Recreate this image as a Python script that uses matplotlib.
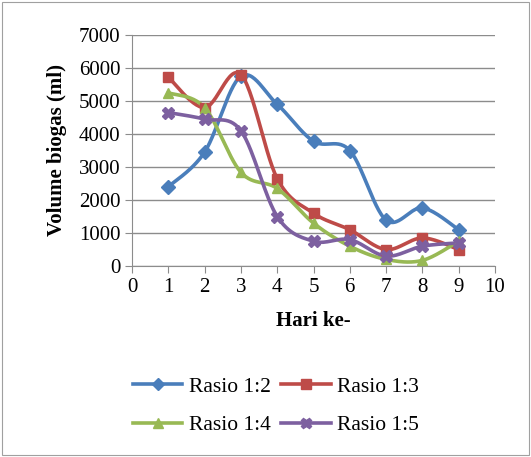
import numpy as np
import matplotlib
matplotlib.use("Agg")
import matplotlib.pyplot as plt
from matplotlib.patches import Rectangle

plt.rcParams["font.family"] = ["Liberation Serif", "DejaVu Serif"]

# data
hari = [1, 2, 3, 4, 5, 6, 7, 8, 9]
rasio_12 = [2400, 3450, 5750, 4900, 3780, 3500, 1390, 1760, 1100]
rasio_13 = [5720, 4800, 5800, 2650, 1600, 1100, 500, 850, 500]
rasio_14 = [5250, 4800, 2840, 2350, 1300, 600, 200, 170, 750]
rasio_15 = [4650, 4450, 4100, 1500, 750, 800, 300, 600, 700]
labels = ["Rasio 1:2", "Rasio 1:3", "Rasio 1:4", "Rasio 1:5"]
colors = ["#4A7EBB", "#BE4B48", "#98B954", "#7D60A0"]
markers = ["D", "s", "^", "X"]


def smooth(x, y, n=30):
    """Catmull-Rom spline through the points (like Excel smoothed line)"""
    x = np.asarray(x, float)
    y = np.asarray(y, float)
    px = np.concatenate([[x[0]], x, [x[-1]]])
    py = np.concatenate([[y[0]], y, [y[-1]]])
    xs, ys = [], []
    for i in range(1, len(px) - 2):
        t = np.linspace(0, 1, n)
        p0, p1, p2, p3 = [np.array([px[j], py[j]]) for j in range(i - 1, i + 3)]
        c1 = p1 + (p2 - p0) / 6
        c2 = p2 - (p3 - p1) / 6
        pts = ((1 - t) ** 3)[:, None] * p1 + (3 * (1 - t) ** 2 * t)[:, None] * c1 \
            + (3 * (1 - t) * t ** 2)[:, None] * c2 + (t ** 3)[:, None] * p2
        xs.append(pts[:, 0])
        ys.append(pts[:, 1])
    return np.concatenate(xs), np.concatenate(ys)


fig = plt.figure(figsize=(5.31, 4.57), dpi=100)
ax = fig.add_axes([132 / 531, 1 - 266 / 457, (495 - 132) / 531, (266 - 35) / 457])

# chart frame
fig.patches.append(Rectangle((0.004, 0.004), 0.992, 0.992, transform=fig.transFigure,
                             fill=False, edgecolor="#a0a0a0", lw=0.8))

handles = []
for y, lab, c, m in zip([rasio_12, rasio_13, rasio_14, rasio_15], labels, colors, markers):
    sx, sy = smooth(hari, y)
    ax.plot(sx, sy, color=c, lw=2.6, zorder=3)
    ax.plot(hari, y, ls="none", marker=m, color=c, ms=7.5 if m != "X" else 8.5,
            markeredgecolor=c, zorder=4)
    h, = ax.plot([], [], color=c, lw=2.6, marker=m, ms=6.5 if m != "X" else 7.5)
    handles.append(h)

ax.set_xlim(0, 10)
ax.set_ylim(0, 7000)
ax.set_xticks(range(0, 11))
ax.set_yticks(range(0, 7001, 1000))
ax.yaxis.grid(True, color="#8c8c8c", lw=1.0)
ax.set_axisbelow(True)
for s in ["top", "right"]:
    ax.spines[s].set_visible(False)
for s in ["left", "bottom"]:
    ax.spines[s].set_color("#8c8c8c")
ax.tick_params(axis="both", colors="#8c8c8c", labelcolor="black", labelsize=15,
               length=5, direction="out")
ax.set_xlabel("Hari ke-", fontsize=15, fontweight="bold", labelpad=10)
ax.set_ylabel("Volume biogas (ml)", fontsize=15, fontweight="bold", labelpad=8)

# matplotlib fills legend column-wise, reorder so rows read 1:2 1:3 / 1:4 1:5
order = [0, 2, 1, 3]
fig.legend([handles[i] for i in order], [labels[i] for i in order], ncol=2,
           loc="center", bbox_to_anchor=(276 / 531, 1 - 406 / 457),
           frameon=False, fontsize=15.5, handlelength=2.3, columnspacing=0.5,
           handletextpad=0.3, labelspacing=0.85)

fig.savefig("out.png", dpi=100)
